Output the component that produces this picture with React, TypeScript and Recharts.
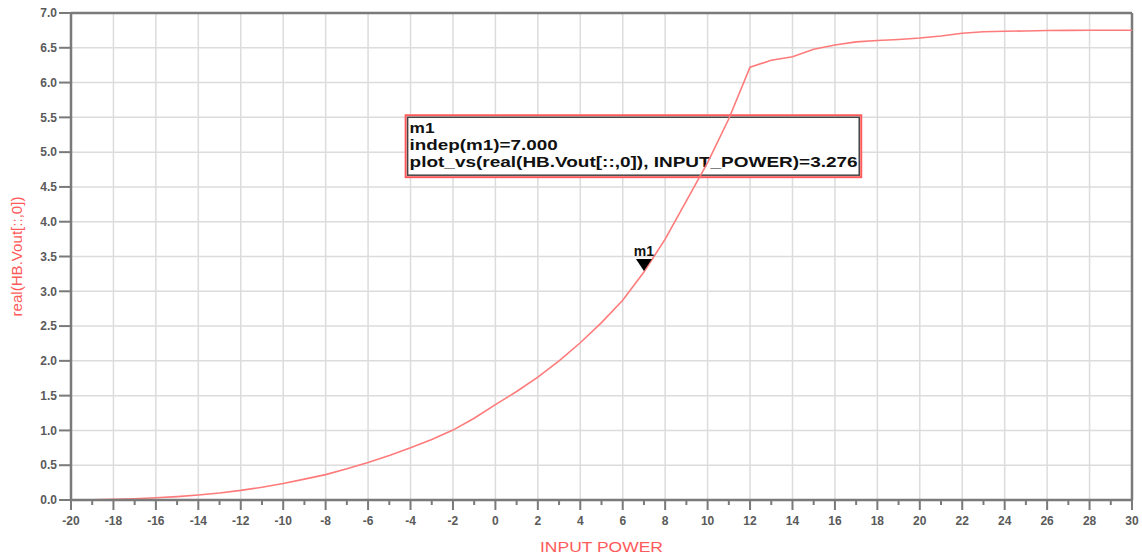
import React from "react";
import {
  CartesianGrid,
  Line,
  LineChart,
  ReferenceArea,
  ReferenceDot,
  ReferenceLine,
  XAxis,
  YAxis,
} from "recharts";

const inputPower = [
  -20, -19, -18, -17, -16, -15, -14, -13, -12, -11, -10, -9, -8, -7, -6, -5, -4,
  -3, -2, -1, 0, 1, 2, 3, 4, 5, 6, 7, 8, 9, 10, 11, 12, 13, 14, 15, 16, 17, 18,
  19, 20, 21, 22, 23, 24, 25, 26, 27, 28, 29, 30,
];
const vout = [
  0.0, 0.004, 0.01, 0.019, 0.032, 0.049, 0.072, 0.1, 0.138, 0.183, 0.238, 0.3,
  0.365, 0.448, 0.54, 0.64, 0.75, 0.87, 1.005, 1.175, 1.37, 1.56, 1.765, 2.0,
  2.26, 2.55, 2.87, 3.276, 3.75, 4.3, 4.85, 5.48, 6.22, 6.32, 6.37, 6.48, 6.54,
  6.585, 6.605, 6.62, 6.64, 6.67, 6.71, 6.73, 6.738, 6.742, 6.748, 6.75, 6.752,
  6.752, 6.752,
];
const xMajorTicks = [
  -20, -18, -16, -14, -12, -10, -8, -6, -4, -2, 0, 2, 4, 6, 8, 10, 12, 14, 16,
  18, 20, 22, 24, 26, 28, 30,
];
const yTicks = [0, 0.5, 1, 1.5, 2, 2.5, 3, 3.5, 4, 4.5, 5, 5.5, 6, 6.5, 7];

const xTitle = "INPUT  POWER";
const yTitle = "real(HB.Vout[::,0])";

// marker m1 and its readout box (box corners in data units)
const markerName = "m1";
const markerX = 7;
const markerY = 3.276;
const markerLines = [
  "m1",
  "indep(m1)=7.000",
  "plot_vs(real(HB.Vout[::,0]), INPUT_POWER)=3.276",
];
const boxX = [-4.23, 17.24];
const boxY = [4.64, 5.53];

const data = inputPower.map((p, i) => ({ p, v: vout[i] }));

const FONT = "'Liberation Sans', Arial, sans-serif";
const AXIS = "#7a7a7a";
const RED = "#ff5a5a";
const lineWidths = [25, 148, 448];

function XTick(props: any) {
  const { x, y, payload } = props;
  const major = payload.value % 2 === 0;
  return (
    <g>
      <line x1={x} x2={x} y1={y} y2={y + (major ? 10 : 5)} stroke={AXIS} strokeWidth={2} />
      {major && (
        <text x={x} y={y + 25} textAnchor="middle" fill="#5a5a5a" fontSize={12} fontWeight="bold" fontFamily={FONT}>
          {payload.value}
        </text>
      )}
    </g>
  );
}

function ReadoutBox(props: any) {
  const { x, y, width, height } = props;
  return (
    <g>
      <rect x={x} y={y} width={width} height={height} fill="#fff" stroke={RED} strokeWidth={2} />
      <rect x={x + 2} y={y + 2} width={width - 4} height={height - 4} fill="none" stroke="#444" strokeWidth={1.5} />
      {markerLines.map((t, i) => (
        <text
          key={i}
          x={x + 4}
          y={y + 18 + i * 17}
          fontSize={15}
          fontWeight="bold"
          fontFamily={FONT}
          fill="#111"
          textLength={lineWidths[i]}
          lengthAdjust="spacingAndGlyphs"
        >
          {t}
        </text>
      ))}
    </g>
  );
}

function MarkerShape(props: any) {
  const { cx, cy } = props;
  return (
    <g>
      <polygon points={`${cx - 8},${cy - 13} ${cx + 8},${cy - 13} ${cx},${cy - 1}`} fill="#000" />
      <text x={cx} y={cy - 16} textAnchor="middle" fontSize={14} fontWeight="bold" fontFamily={FONT} fill="#111">
        {markerName}
      </text>
    </g>
  );
}

export default function App() {
  return (
    <div style={{ position: "absolute", left: 0, top: 0, background: "#fff" }}>
      <LineChart width={1142} height={557} data={data} margin={{ top: 13, right: 10, bottom: 0, left: 0 }}>
        <XAxis
          xAxisId="x"
          type="number"
          dataKey="p"
          domain={[-20, 30]}
          ticks={inputPower}
          interval={0}
          allowDataOverflow
          height={57}
          tickSize={0}
          tickMargin={0}
          tickLine={false}
          tick={<XTick />}
          axisLine={{ stroke: AXIS, strokeWidth: 2.5 }}
          label={{
            content: (p: any) => {
              const vb = p.viewBox;
              return (
                <text
                  x={vb.x + vb.width / 2}
                  y={vb.y + 52}
                  textAnchor="middle"
                  fill={RED}
                  fontSize={15}
                  fontFamily={FONT}
                  textLength={123}
                  lengthAdjust="spacingAndGlyphs"
                >
                  {xTitle}
                </text>
              );
            },
          }}
        />
        <XAxis
          xAxisId="grid"
          type="number"
          dataKey="p"
          domain={[-20, 30]}
          ticks={xMajorTicks}
          hide
          height={0}
          allowDataOverflow
        />
        <CartesianGrid xAxisId="grid" stroke="#dcdcdc" strokeWidth={1.5} />
        <YAxis
          type="number"
          domain={[0, 7]}
          ticks={yTicks}
          interval={0}
          width={71}
          allowDataOverflow
          tickFormatter={(v: number) => v.toFixed(1)}
          tickSize={12}
          tickMargin={2}
          tick={{ fill: "#5a5a5a", fontSize: 12, fontWeight: "bold", fontFamily: FONT }}
          tickLine={{ stroke: AXIS, strokeWidth: 2 }}
          axisLine={{ stroke: AXIS, strokeWidth: 2.5 }}
          label={{
            content: (p: any) => {
              const vb = p.viewBox;
              const cx = vb.x + 22;
              const cy = vb.y + vb.height / 2;
              return (
                <text
                  x={cx}
                  y={cy}
                  transform={`rotate(-90, ${cx}, ${cy})`}
                  textAnchor="middle"
                  fill={RED}
                  fontSize={14}
                  fontFamily={FONT}
                  textLength={120}
                  lengthAdjust="spacingAndGlyphs"
                >
                  {yTitle}
                </text>
              );
            },
          }}
        />
        <ReferenceLine xAxisId="x" y={7} stroke={AXIS} strokeWidth={2.5} />
        <ReferenceLine xAxisId="x" x={30} stroke={AXIS} strokeWidth={2.5} />
        <Line
          xAxisId="x"
          type="linear"
          dataKey="v"
          stroke="#ff7b7b"
          strokeWidth={1.6}
          dot={false}
          isAnimationActive={false}
        />
        <ReferenceArea
          xAxisId="x"
          x1={boxX[0]}
          x2={boxX[1]}
          y1={boxY[0]}
          y2={boxY[1]}
          shape={(p: any) => <ReadoutBox {...p} />}
        />
        <ReferenceDot
          xAxisId="x"
          x={markerX}
          y={markerY}
          shape={(p: any) => <MarkerShape {...p} />}
        />
      </LineChart>
    </div>
  );
}
